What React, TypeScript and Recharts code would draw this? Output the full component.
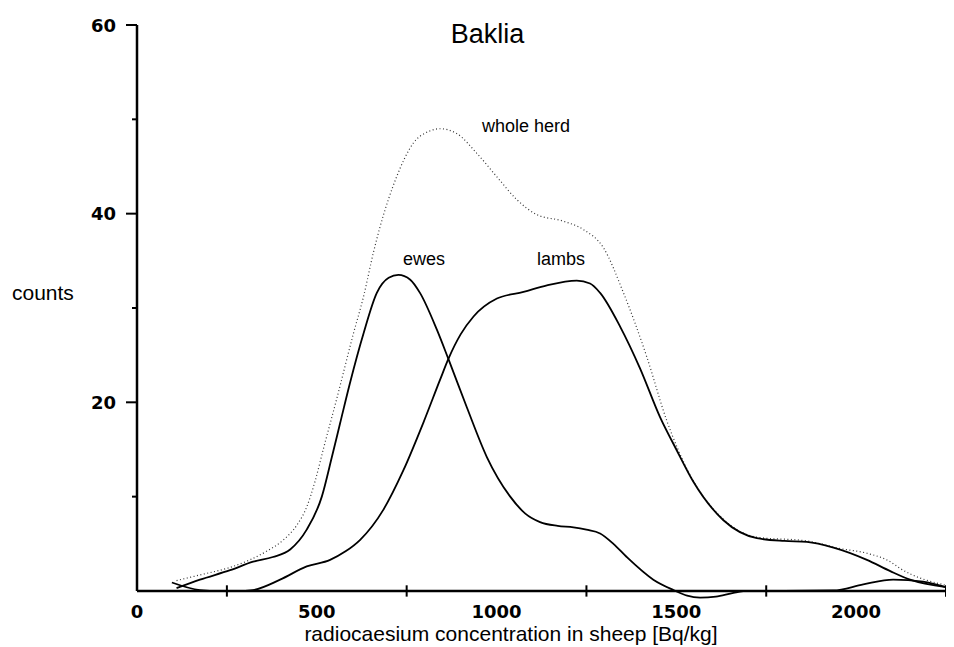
import React from "react";
import { LineChart, Line, XAxis, YAxis, ReferenceLine } from "recharts";

// radiocaesium concentration [Bq/kg] , counts
const ewesPts: [number, number][] = [
  [110, 0.3], [175, 1.2], [259, 2.2], [323, 3.1], [378, 3.6], [426, 4.4], [472, 6.5],
  [514, 10.0], [542, 14.2], [565, 17.8], [592, 22.0], [630, 27.3], [667, 31.6], [700, 33.2],
  [727, 33.5], [760, 33.0], [787, 31.6], [834, 27.7], [866, 24.6], [917, 19.5], [973, 14.2],
  [1038, 10.0], [1080, 8.2], [1121, 7.3], [1170, 6.9], [1214, 6.75], [1250, 6.5], [1288, 6.1],
  [1325, 5.0], [1362, 3.6], [1436, 1.2], [1492, 0.1], [1530, -0.5], [1566, -0.7], [1610, -0.6],
  [1659, -0.2], [1700, 0], [1800, 0], [1937, 0.05], [2020, 0.7], [2103, 1.2], [2186, 1.0], [2250, 0.4],
];

const lambsPts: [number, number][] = [
  [97, 0.9], [175, 0.1], [230, 0], [280, 0], [322, 0.1], [398, 1.2], [472, 2.6], [537, 3.3],
  [580, 4.2], [620, 5.4], [685, 8.6], [741, 12.8], [796, 17.8], [843, 22.4], [866, 24.6],
  [900, 27.2], [936, 29.1], [1001, 31.0], [1075, 31.7], [1140, 32.4], [1223, 32.9], [1260, 32.6],
  [1288, 31.6], [1344, 28.0], [1399, 23.6], [1455, 18.4], [1500, 15.0], [1547, 11.6], [1631, 7.5],
  [1724, 5.6], [1800, 5.3], [1863, 5.2], [1937, 4.6], [2030, 3.3], [2095, 2.1], [2150, 1.2], [2250, 0.4],
];

const herdPts: [number, number][] = [
  [110, 1.1], [175, 1.7], [259, 2.5], [314, 3.3], [360, 4.2], [407, 5.4], [445, 7.0], [472, 8.9],
  [495, 11.6], [518, 15.0], [555, 20.3], [602, 27.3], [630, 31.2], [657, 35.8], [676, 38.6],
  [722, 43.9], [769, 47.5], [810, 48.7], [843, 49.0], [889, 48.5], [945, 46.4], [1001, 43.9],
  [1056, 41.5], [1112, 39.9], [1186, 39.2], [1242, 38.3], [1297, 36.4], [1353, 31.6], [1418, 24.8],
  [1473, 18.1], [1534, 12.6], [1631, 7.6], [1724, 5.7], [1863, 5.3], [1955, 4.5], [2030, 4.0],
  [2095, 3.1], [2122, 2.4], [2250, 0.6],
];

const xLabelTicks = [0, 500, 1000, 1500, 2000];
const xCrossTicks = [250, 750, 1250, 1750, 2250];
const yTicks = [10, 20, 30, 40, 50, 60];
const yLabelled = [20, 40, 60];

const toRows = (pts: [number, number][]) => pts.map(([x, y]) => ({ x, y }));
const ewes = toRows(ewesPts);
const lambs = toRows(lambsPts);
const herd = toRows(herdPts);

const tickFont = "'DejaVu Sans', sans-serif";
const textFont = "'Liberation Sans', Arial, sans-serif";

const XTick = (props: any) => {
  const { x, y, payload } = props;
  return (
    <text x={x} y={y + 18} textAnchor="middle" fontFamily={tickFont} fontWeight="bold" fontSize={18} fill="#000">
      {payload.value}
    </text>
  );
};

const YTick = (props: any) => {
  const { x, y, payload } = props;
  const major = yLabelled.includes(payload.value);
  return (
    <g>
      <line x1={x - (major ? 11 : 5)} x2={x} y1={y} y2={y} stroke="#000" strokeWidth={2} />
      {major && (
        <text x={x - 21} y={y} dy={6.5} textAnchor="end" fontFamily={tickFont} fontWeight="bold" fontSize={18} fill="#000">
          {payload.value}
        </text>
      )}
    </g>
  );
};

export default function App() {
  return (
    <div style={{ position: "relative", width: 946, height: 639 }}>
      <LineChart width={946} height={639} margin={{ top: 17, right: 8, bottom: 0, left: 0 }}>
        <XAxis
          type="number"
          dataKey="x"
          domain={[0, 2250]}
          allowDataOverflow
          ticks={xLabelTicks}
          interval={0}
          axisLine={false}
          tickLine={false}
          tickSize={0}
          tickMargin={0}
          height={46.6}
          tick={<XTick />}
        />
        <YAxis
          type="number"
          domain={[-1, 60]}
          allowDataOverflow
          ticks={yTicks}
          interval={0}
          axisLine={false}
          tickLine={false}
          tickSize={0}
          tickMargin={0}
          width={129}
          tick={<YTick />}
        />
        <ReferenceLine y={0} stroke="#000" strokeWidth={2.5} />
        <ReferenceLine segment={[{ x: 0, y: 0 }, { x: 0, y: 60 }]} stroke="#000" strokeWidth={2.5} />
        {xCrossTicks.map((v) => (
          <ReferenceLine key={v} segment={[{ x: v, y: -0.6 }, { x: v, y: 0.6 }]} stroke="#000" strokeWidth={2} />
        ))}
        <Line data={herd} dataKey="y" type="monotone" stroke="#333" strokeWidth={1.2} strokeDasharray="1 2.5" dot={false} isAnimationActive={false} />
        <Line data={ewes} dataKey="y" type="monotone" stroke="#000" strokeWidth={1.8} dot={false} isAnimationActive={false} />
        <Line data={lambs} dataKey="y" type="monotone" stroke="#000" strokeWidth={1.8} dot={false} isAnimationActive={false} />
      </LineChart>
      <svg width={946} height={639} style={{ position: "absolute", left: 0, top: 0, pointerEvents: "none" }}>
        <text x={479.5} y={35} textAnchor="middle" fontFamily={textFont} fontSize={27} fill="#000">Baklia</text>
        <text x={474} y={124} fontFamily={textFont} fontSize={18} fill="#000">whole herd</text>
        <text x={395} y={257} fontFamily={textFont} fontSize={18} fill="#000">ewes</text>
        <text x={529} y={257} fontFamily={textFont} fontSize={18} fill="#000">lambs</text>
        <text x={4} y={292} fontFamily={textFont} fontSize={21} fill="#000">counts</text>
        <text x={503} y={633} textAnchor="middle" fontFamily={textFont} fontSize={21} fill="#000">
          radiocaesium concentration in sheep [Bq/kg]
        </text>
      </svg>
    </div>
  );
}
